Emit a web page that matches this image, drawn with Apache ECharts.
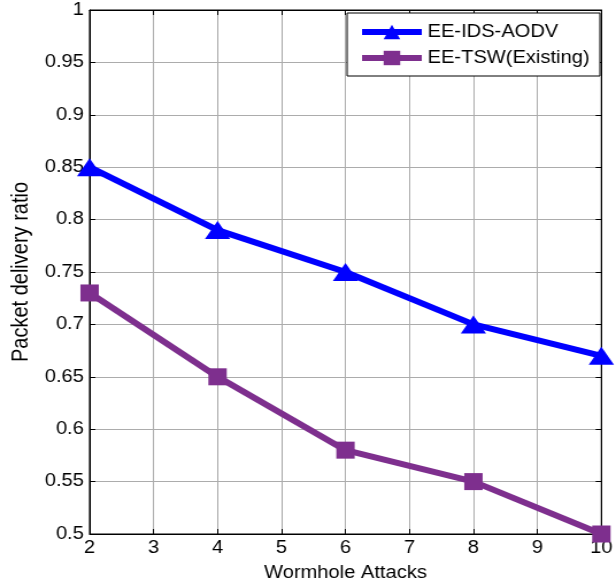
<!DOCTYPE html>
<html><head><meta charset="utf-8">
<script src="https://cdn.jsdelivr.net/npm/echarts@6/dist/echarts.min.js"></script>
<style>html,body{margin:0;padding:0;background:#fff;overflow:hidden}
#c{width:536px;height:587px;transform:scaleX(1.14925);transform-origin:0 0}</style>
</head><body><div id="c"></div>
<script>
const attacks = [2, 4, 6, 8, 10];
const eeIdsAodv = [0.85, 0.79, 0.75, 0.70, 0.67];
const eeTsw = [0.73, 0.65, 0.58, 0.55, 0.50];
const seriesNames = ['EE-IDS-AODV', 'EE-TSW(Existing)'];
const xName = 'Wormhole Attacks';
const yName = 'Packet delivery ratio';

const font = 'Liberation Sans, Arial, sans-serif';
const chart = echarts.init(document.getElementById('c'));
const gridLine = {show: true, lineStyle: {color: '#acacac', width: 1}};
const tick = {show: true, inside: true, length: 5, lineStyle: {color: '#000'}};
chart.setOption({
  animation: false,
  grid: {left: 76, right: 10, top: 10, bottom: 53, show: true, borderColor: '#000', borderWidth: 1, backgroundColor: '#fff'},
  legend: {
    top: 13, right: 14, orient: 'vertical', backgroundColor: '#fff', borderColor: '#000', borderWidth: 1,
    padding: [10, 9, 9, 10], itemGap: 8, itemWidth: 52, itemHeight: 18,
    lineStyle: {width: 6},
    textStyle: {fontFamily: font, fontSize: 17.5, color: '#000'},
    data: seriesNames
  },
  xAxis: [{
    type: 'value', min: 2, max: 10, interval: 1,
    name: xName, nameLocation: 'middle', nameGap: 30,
    nameTextStyle: {fontFamily: font, fontSize: 17.5, color: '#000'},
    axisLine: {show: true, lineStyle: {color: '#000'}},
    axisTick: tick,
    axisLabel: {fontFamily: font, fontSize: 17.5, color: '#000', margin: 5},
    splitLine: gridLine
  }, {
    type: 'value', position: 'top', min: 2, max: 10, interval: 1,
    axisLine: {show: true, lineStyle: {color: '#000'}},
    axisTick: tick, axisLabel: {show: false}, splitLine: {show: false}
  }],
  yAxis: [{
    type: 'value', min: 0.5, max: 1, interval: 0.05,
    name: yName, nameLocation: 'middle', nameGap: 48, nameRotate: 90,
    nameTextStyle: {fontFamily: font, fontSize: 20, color: '#000'},
    axisLine: {show: true, lineStyle: {color: '#000'}},
    axisTick: tick,
    axisLabel: {fontFamily: font, fontSize: 17.5, color: '#000', margin: 5},
    splitLine: gridLine
  }, {
    type: 'value', position: 'right', min: 0.5, max: 1, interval: 0.05,
    axisLine: {show: true, lineStyle: {color: '#000'}},
    axisTick: tick, axisLabel: {show: false}, splitLine: {show: false}
  }],
  series: [{
    name: seriesNames[0], type: 'line',
    data: attacks.map((x, i) => [x, eeIdsAodv[i]]),
    lineStyle: {color: '#0000ff', width: 6}, itemStyle: {color: '#0000ff'},
    symbol: 'triangle', symbolSize: [22, 18], showAllSymbol: true, z: 3
  }, {
    name: seriesNames[1], type: 'line',
    data: attacks.map((x, i) => [x, eeTsw[i]]),
    lineStyle: {color: '#7e2f8e', width: 6}, itemStyle: {color: '#7e2f8e'},
    symbol: 'rect', symbolSize: [16, 17], showAllSymbol: true, z: 2
  }]
});
</script></body></html>
